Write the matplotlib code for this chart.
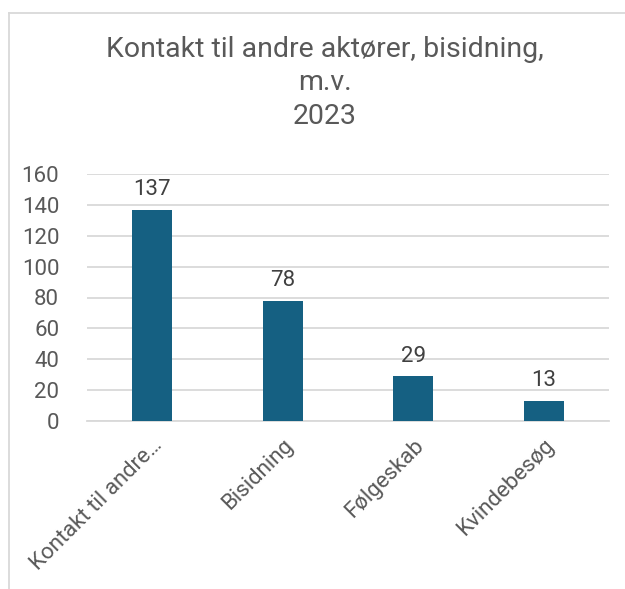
import matplotlib
matplotlib.use("Agg")
import matplotlib.pyplot as plt
from matplotlib.lines import Line2D

CATEGORIES = ["Kontakt til andre…", "Bisidning", "Følgeskab", "Kvindebesøg"]
VALUES = [137, 78, 29, 13]
Y_TICKS = [0, 20, 40, 60, 80, 100, 120, 140, 160]
TITLE = "Kontakt til andre aktører, bisidning,\nm.v.\n2023"

BAR_COLOR = "#156082"
TEXT_COLOR = "#595959"
GRID_COLOR = "#d9d9d9"

plt.rcParams["font.family"] = ["Roboto", "DejaVu Sans"]

fig = plt.figure(figsize=(6.25, 5.89), dpi=100)
fig.patch.set_facecolor("white")
ax = fig.add_axes([87 / 625, 1 - 421 / 589, 522 / 625, 247 / 589])

x = list(range(len(CATEGORIES)))
bars = ax.bar(x, VALUES, width=0.31, color=BAR_COLOR, zorder=3)
for bar, value in zip(bars, VALUES):
    ax.annotate(
        f"{value}",
        (bar.get_x() + bar.get_width() / 2, value),
        xytext=(0, 7),
        textcoords="offset points",
        ha="center",
        va="bottom",
        fontsize=16,
        color="#404040",
    )

ax.set_xlim(-0.5, len(CATEGORIES) - 0.5)
ax.set_ylim(0, 160)
ax.set_yticks(Y_TICKS)
ax.set_yticklabels([str(t) for t in Y_TICKS], fontsize=16, color=TEXT_COLOR)
ax.set_xticks(x)
ax.set_xticklabels(
    CATEGORIES,
    rotation=45,
    ha="right",
    va="top",
    rotation_mode="anchor",
    fontsize=16,
    color=TEXT_COLOR,
)
ax.tick_params(axis="both", length=0)
ax.tick_params(axis="y", pad=20)
ax.tick_params(axis="x", pad=10)
ax.grid(axis="y", color=GRID_COLOR, linewidth=1.3, zorder=0)
for spine in ("top", "right", "left"):
    ax.spines[spine].set_visible(False)
ax.spines["bottom"].set_color(GRID_COLOR)
ax.spines["bottom"].set_linewidth(1.3)

fig.text(
    325 / 625,
    1 - 36 / 589,
    TITLE,
    ha="center",
    va="top",
    fontsize=20.5,
    color=TEXT_COLOR,
    linespacing=1.3,
)

# chart frame (only left and top edges fall inside the crop)
fig.add_artist(Line2D([9 / 625, 9 / 625], [0, 1 - 13 / 589], transform=fig.transFigure, color=GRID_COLOR, linewidth=1.3))
fig.add_artist(Line2D([9 / 625, 1], [1 - 13 / 589, 1 - 13 / 589], transform=fig.transFigure, color=GRID_COLOR, linewidth=1.3))

fig.savefig("out.png", dpi=100)
